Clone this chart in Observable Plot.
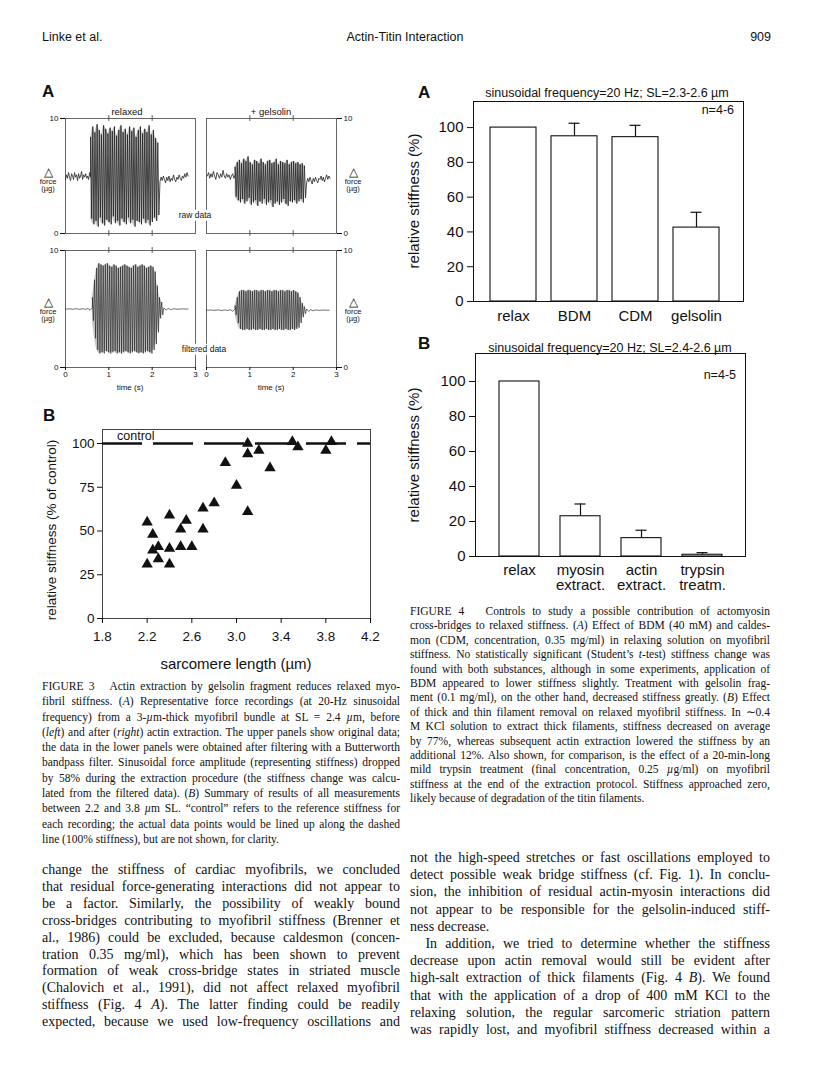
<!DOCTYPE html>
<html><head><meta charset="utf-8">
<script src="https://cdn.jsdelivr.net/npm/d3@7"></script>
<script src="https://cdn.jsdelivr.net/npm/@observablehq/plot@0.6"></script>
<style>
body{margin:0;background:#fff;}
#page{position:relative;width:816px;height:1076px;overflow:hidden;background:#fff;color:#111;}
.ln{display:block;text-align:justify;text-align-last:justify;white-space:normal;overflow:visible;}
.ln.last{text-align-last:left;}
svg{overflow:visible;}
</style></head><body><div id="page"></div>
<script>
const SANS = '"Liberation Sans", Arial, sans-serif';
const SERIF = '"Liberation Serif", "Times New Roman", serif';

// ---------- Figure 3A: force traces ----------
const freqHz = 20;
// raw, relaxed
const relaxRawPre = [4.7,5.1,4.8,5.3,4.9,4.6,5.2,5.0,4.7,5.3,4.9,5.1,4.6,5.2,4.8,5.0,5.4,4.7,5.1,4.9,5.2,4.8,5.0,4.7,5.3,4.9];
const relaxRawHi = [8.4,9.3,8.8,9.5,9.0,8.6,9.4,9.1,8.7,9.2,8.9,9.3,8.5,9.0,9.4,8.8,9.1,8.6,9.3,8.9,9.2,8.4,9.0,9.3,8.7,9.1,8.8,9.4,8.6,9.0,8.3,7.9];
const relaxRawLo = [1.3,0.8,1.1,0.6,1.4,0.9,0.7,1.2,1.0,0.8,1.5,0.9,1.1,0.7,1.3,1.0,0.8,1.4,0.9,1.2,0.6,1.1,1.0,0.8,1.3,0.9,1.2,0.7,1.0,1.4,1.1,1.6];
const relaxRawPost = [4.5,4.9,4.6,5.0,4.7,4.4,4.9,4.6,5.0,4.5,4.8,4.6,5.1,4.7,4.5,4.9,4.7,5.1,4.8,4.6,5.0,4.8,5.2,4.9,5.3,5.0];
// raw, + gelsolin
const gelRawPre = [5.0,5.3,4.8,5.2,4.9,5.4,5.0,4.7,5.3,5.1,4.8,5.2,4.9,5.5,5.0,4.8,5.2,4.9,5.1,4.7,5.0,5.2,4.8,5.1];
const gelRawHi = [5.8,6.2,6.4,6.1,6.5,6.3,6.7,6.2,6.0,6.4,6.3,6.1,6.5,6.2,6.0,6.3,6.4,6.1,6.2,6.5,6.0,6.3,6.2,6.1,6.4,6.0,6.2,6.3,6.1,6.2,6.0,6.1,5.9];
const gelRawLo = [3.2,2.9,2.7,3.0,2.6,2.8,3.1,2.5,2.7,2.9,2.4,2.8,2.6,3.0,2.5,2.7,2.9,2.3,2.6,2.8,2.5,2.7,3.0,2.6,2.4,2.8,2.7,2.9,2.6,2.8,3.0,2.7,3.1];
const gelRawPost = [4.4,4.8,4.5,4.9,4.6,4.3,4.8,4.5,4.9,4.6,4.4,4.8,4.7,5.0,4.6,4.9,4.5,4.8,5.1,4.7,5.0,4.8];
// filtered, relaxed
const relaxFiltPre = [5.0,5.0,5.02,4.98,5.0,5.03,4.97,5.0,5.02,4.97,5.05,4.9,5.1];
const relaxFiltHi = [6.0,7.5,8.5,8.9,8.8,8.7,8.8,8.9,8.7,8.6,8.8,8.7,8.5,8.6,8.7,8.8,8.7,8.6,8.5,8.7,8.8,8.6,8.7,8.8,8.7,8.5,8.6,8.7,8.6,8.2,7.0,6.0,5.6];
const relaxFiltLo = [4.0,2.5,1.5,1.2,1.3,1.2,1.4,1.3,1.2,1.3,1.4,1.2,1.3,1.2,1.3,1.4,1.3,1.2,1.3,1.4,1.3,1.2,1.3,1.2,1.3,1.4,1.3,1.2,1.5,2.0,3.0,4.2,4.5];
const relaxFiltPost = [5.1,4.9,5.05,4.95,5.0,5.02,4.98,5.0,5.0,5.01,4.99,5.0];
// filtered, + gelsolin
const gelFiltPre = [4.9,4.9,4.92,4.88,4.9,4.93,4.87,4.9,4.92,4.87,4.95,4.8,5.0];
const gelFiltHi = [5.3,6.0,6.5,6.6,6.6,6.5,6.6,6.6,6.5,6.6,6.6,6.5,6.6,6.6,6.5,6.6,6.6,6.5,6.6,6.6,6.5,6.6,6.6,6.5,6.6,6.6,6.5,6.6,6.5,6.4,6.0,5.5,5.2];
const gelFiltLo = [4.5,3.8,3.3,3.2,3.2,3.3,3.2,3.2,3.3,3.2,3.2,3.3,3.2,3.2,3.3,3.2,3.2,3.3,3.2,3.2,3.3,3.2,3.2,3.3,3.2,3.2,3.3,3.2,3.3,3.4,3.8,4.3,4.6];
const gelFiltPost = [5.0,4.8,4.95,4.85,4.9,4.92,4.88,4.9,4.9,4.91,4.89,4.9];
// timing (s): baseline start, oscillation onset, trace end
const traceTimes = {
  relaxRaw: [0.0, 0.58, 2.83], gelRaw: [0.02, 0.66, 2.85],
  relaxFilt: [0.0, 0.62, 2.83], gelFilt: [0.0, 0.66, 2.83]
};
const forceTicks = [0, 10];
const timeTicks = [0, 1, 2, 3];

// ---------- Figure 3B ----------
const sarcomereLength = [2.2,2.2,2.25,2.25,2.3,2.3,2.4,2.4,2.4,2.5,2.5,2.55,2.6,2.7,2.7,2.8,2.9,3.0,3.1,3.1,3.1,3.2,3.3,3.5,3.55,3.8,3.85];
const relStiffness = [55,31,48,39,41,34,59,40,31,51,41,56,41,63,51,66,89,76,100,94,61,96,86,101,98,96,101];
const controlLevel = 100;
const fig3bXTicks = [1.8,2.2,2.6,3.0,3.4,3.8,4.2];
const fig3bYTicks = [0,25,50,75,100];

// ---------- Figure 4A ----------
const fig4aCats = ["relax","BDM","CDM","gelsolin"];
const fig4aValues = [100, 95, 94.5, 42.5];
const fig4aErr = [0, 7.5, 6.8, 8.8];
// ---------- Figure 4B ----------
const fig4bCats = ["relax","myosin extract.","actin extract.","trypsin treatm."];
const fig4bLabels = ["relax","myosin\nextract.","actin\nextract.","trypsin\ntreatm."];
const fig4bValues = [100, 23, 10.5, 1.0];
const fig4bErr = [0, 7, 4.5, 1.2];
const fig4YTicks = [0,20,40,60,80,100];

// ---------- helpers ----------
const page = document.getElementById("page");
function place(el, left, top){ el.style.position="absolute"; el.style.left=left+"px"; el.style.top=top+"px"; page.appendChild(el); return el; }
function label(html, x, y, o={}){
  const d=document.createElement("div");
  d.innerHTML=html;
  const size=o.size||12;
  d.style.cssText=`position:absolute;left:${x}px;top:${y}px;font-size:${size}px;line-height:1;white-space:nowrap;font-family:${o.serif?SERIF:SANS};font-weight:${o.bold?"bold":"normal"};color:#111;`+(o.bg?"background:#fff;padding:1px 1px;":"");
  const tx=o.anchor==="middle"?"-50%":o.anchor==="end"?"-100%":"0";
  d.style.transform=o.rotate?"translate(-50%,-50%) rotate(-90deg)":`translate(${tx},-50%)`;
  page.appendChild(d); return d;
}
function para(lines, left, top, width, size, lh, lastSet=new Set(), indentSet=new Set()){
  const wrap=document.createElement("div");
  wrap.style.cssText=`position:absolute;left:${left}px;top:${top}px;width:${width}px;font-family:${SERIF};font-size:${size}px;line-height:${lh}px;color:#111;`;
  lines.forEach((l,i)=>{
    const d=document.createElement("div");
    d.className="ln"+(lastSet.has(i)?" last":"");
    if(indentSet.has(i)) d.style.textIndent="1.1em";
    d.innerHTML=l; wrap.appendChild(d);
  });
  page.appendChild(wrap);
}

// ---------- header ----------
label("Linke et al.", 42, 37, {size:12.5});
label("Actin-Titin Interaction", 405, 37, {size:12.5, anchor:"middle"});
label("909", 771, 37, {size:12.5, anchor:"end"});

// ---------- Fig 3A ----------
function buildTrace(pre, hi, lo, post, times){
  const [t0, tOn] = times, tEnd = times[2];
  const pts=[];
  pre.forEach((v,i)=>pts.push({t: t0 + (tOn-t0)*i/(pre.length-1), v}));
  const cyc=[];
  hi.forEach((h,i)=>{
    const ta=tOn + i/freqHz, tb=tOn+(i+0.5)/freqHz;
    pts.push({t:ta, v:h}); pts.push({t:tb, v:lo[i]});
    cyc.push({t:ta, hi:h, lo:lo[i]});
  });
  const tOff = tOn + hi.length/freqHz;
  post.forEach((v,i)=>pts.push({t: tOff + (tEnd-tOff)*i/(post.length-1), v}));
  return {pts, cyc};
}
function tracePanel(tr, side, showX, left, top, raw){
  const h = showX ? 117 : 115;
  const mb = showX ? 14 : 4;
  const p = Plot.plot({
    width:156, height:10+h+mb, marginTop:10, marginBottom:mb,
    marginLeft: side==="left"?25:1, marginRight: side==="left"?1:25,
    x:{domain:[0,3], axis:null}, y:{domain:[0,10], axis:null},
    style:{fontFamily:SANS, background:"transparent", color:"#111"},
    marks:[
      Plot.frame({stroke:"#555", strokeWidth:0.9}),
      Plot.areaY(tr.cyc, {x:"t", y1:"lo", y2:"hi", fill:"#8c8c8c", fillOpacity:0.5}),
      Plot.line(tr.pts, {x:"t", y:"v", stroke:"#222", strokeWidth: raw?0.8:0.65}),
      Plot.axisY({anchor:side, ticks:forceTicks, tickSize:5, tickPadding:2, fontSize:8, label:null}),
      showX ? Plot.axisX({ticks:timeTicks, tickSize:3, tickPadding:1, fontSize:8, tickFormat:d3.format("d"), label:null})
            : Plot.ruleX([1,2], {y1:-0.25, y2:0.25, stroke:"#555"}),
      Plot.ruleX([1,2], {y1:9.75, y2:10.25, stroke:"#555"})
    ]
  });
  place(p, left, top);
}
const tRR = buildTrace(relaxRawPre, relaxRawHi, relaxRawLo, relaxRawPost, traceTimes.relaxRaw);
const tGR = buildTrace(gelRawPre, gelRawHi, gelRawLo, gelRawPost, traceTimes.gelRaw);
const tRF = buildTrace(relaxFiltPre, relaxFiltHi, relaxFiltLo, relaxFiltPost, traceTimes.relaxFilt);
const tGF = buildTrace(gelFiltPre, gelFiltHi, gelFiltLo, gelFiltPost, traceTimes.gelFilt);
tracePanel(tRR, "left", false, 40, 108, true);
tracePanel(tGR, "right", false, 205, 108, true);
tracePanel(tRF, "left", true, 40, 240, false);
tracePanel(tGF, "right", true, 205, 240, false);

label("A", 42, 91, {size:17, bold:true});
label("relaxed", 127, 112, {size:9.5, anchor:"middle"});
label("+ gelsolin", 271, 112, {size:9.5, anchor:"middle"});
label("raw data", 195, 215, {size:8.5, anchor:"middle", bg:true});
label("filtered data", 204, 349, {size:8.5, anchor:"middle", bg:true});
label("time (s)", 130, 388, {size:8, anchor:"middle"});
label("time (s)", 271, 388, {size:8, anchor:"middle"});
for (const [x, y0] of [[48,172],[353,172],[48,302],[353,302]]){
  label("&#9651;", x, y0, {size:12, anchor:"middle"});
  label("force", x, y0+10, {size:7.5, anchor:"middle"});
  label("(µg)", x, y0+17, {size:7.5, anchor:"middle"});
}

// ---------- Fig 3B ----------
{
  const pts = sarcomereLength.map((x,i)=>({x, y:relStiffness[i]}));
  const p = Plot.plot({
    width:332, height:248, marginLeft:62, marginRight:2, marginTop:29, marginBottom:30,
    x:{domain:[1.8,4.2]}, y:{domain:[0,108]},
    style:{fontFamily:SANS, background:"transparent", color:"#111"},
    marks:[
      Plot.frame({stroke:"#444", strokeWidth:1}),
      Plot.ruleY([controlLevel], {stroke:"#111", strokeWidth:2.6, strokeDasharray:"40,11"}),
      Plot.dot(pts, {x:"x", y:"y", symbol:"triangle", r:4.2, fill:"#111", stroke:"none"}),
      Plot.text(["control"], {x:1.93, y:controlLevel, dy:-8, text:d=>d, textAnchor:"start", fontSize:12.5}),
      Plot.axisY({ticks:fig3bYTicks, tickSize:5, tickPadding:3, fontSize:13.5, label:null}),
      Plot.axisX({ticks:fig3bXTicks, tickSize:5, tickPadding:8, fontSize:13.5, tickFormat:d3.format(".1f"), label:null})
    ]
  });
  place(p, 40, 400);
  label("B", 43, 415, {size:17, bold:true});
  label("relative stiffness (% of control)", 52, 530, {size:13.5, rotate:true});
  label("sarcomere length (µm)", 236, 663, {size:15, anchor:"middle"});
}

// ---------- Fig 4 bar charts ----------
function barChart(cats, values, errs, tickLabels, opts){
  const data = cats.map((c,i)=>({c, v:values[i], e:errs[i], lab:tickLabels[i]}));
  const labMap = new Map(data.map(d=>[d.c, d.lab]));
  const errData = data.filter(d=>d.e>0);
  const capInset = (opts.bw - 11)/2;
  const p = Plot.plot({
    width:360, height:opts.height, marginLeft:opts.ml, marginRight:360-opts.ml-270, marginTop:opts.mt, marginBottom:opts.mb,
    x:{type:"band", domain:cats, range:opts.range, paddingInner:opts.pi, paddingOuter:0},
    y:{domain:[0, opts.ymax]},
    style:{fontFamily:SANS, background:"transparent", color:"#111"},
    marks:[
      Plot.frame({stroke:"#111", strokeWidth:1}),
      Plot.ruleX(errData, {x:"c", y1:"v", y2:d=>d.v+d.e, stroke:"#111", strokeWidth:1.2}),
      Plot.tickY(errData, {x:"c", y:d=>d.v+d.e, stroke:"#111", strokeWidth:1.2, insetLeft:capInset, insetRight:capInset}),
      Plot.barY(data, {x:"c", y:"v", fill:"white", stroke:"#111", strokeWidth:1.1}),
      Plot.axisY({ticks:fig4YTicks, tickSize:6, tickPadding:4, fontSize:15, label:null}),
      Plot.axisX({tickSize:0, tickPadding:opts.tp, fontSize:15, lineHeight:1.0, tickFormat:c=>labMap.get(c), label:null})
    ]
  });
  return p;
}
place(barChart(fig4aCats, fig4aValues, fig4aErr, fig4aCats, {height:245, ml:73, mt:21, mb:24, range:[89,319], pi:0.25, bw:46, ymax:115, tp:9}), 400, 80);
label("A", 418, 92, {size:17, bold:true});
label("sinusoidal frequency=20 Hz; SL=2.3-2.6 µm", 607, 93, {size:12.5, anchor:"middle"});
label("n=4-6", 734, 110, {size:12.5, anchor:"end"});
label("relative stiffness (%)", 413, 201, {size:15, rotate:true});

place(barChart(fig4bCats, fig4bValues, fig4bErr, fig4bLabels, {height:272, ml:75, mt:23, mb:46, range:[98,322], pi:0.348, bw:40, ymax:116, tp:8}), 400, 330);
label("B", 418, 343, {size:17, bold:true});
label("sinusoidal frequency=20 Hz; SL=2.4-2.6 µm", 610, 348, {size:12.5, anchor:"middle"});
label("n=4-5", 736, 375, {size:12.5, anchor:"end"});
label("relative stiffness (%)", 413, 455, {size:15, rotate:true});

// ---------- captions ----------
const cap3 = [
 "FIGURE 3&nbsp;&nbsp; Actin extraction by gelsolin fragment reduces relaxed myo-",
 "fibril stiffness. (<i>A</i>) Representative force recordings (at 20-Hz sinusoidal",
 "frequency) from a 3-<i>µ</i>m-thick myofibril bundle at SL = 2.4 <i>µ</i>m, before",
 "(<i>left</i>) and after (<i>right</i>) actin extraction. The upper panels show original data;",
 "the data in the lower panels were obtained after filtering with a Butterworth",
 "bandpass filter. Sinusoidal force amplitude (representing stiffness) dropped",
 "by 58% during the extraction procedure (the stiffness change was calcu-",
 "lated from the filtered data). (<i>B</i>) Summary of results of all measurements",
 "between 2.2 and 3.8 <i>µ</i>m SL. “control” refers to the reference stiffness for",
 "each recording; the actual data points would be lined up along the dashed",
 "line (100% stiffness), but are not shown, for clarity."
];
para(cap3, 42, 679, 358, 11.5, 15.3, new Set([10]));
const cap4 = [
 "FIGURE 4&nbsp;&nbsp; Controls to study a possible contribution of actomyosin",
 "cross-bridges to relaxed stiffness. (<i>A</i>) Effect of BDM (40 mM) and caldes-",
 "mon (CDM, concentration, 0.35 mg/ml) in relaxing solution on myofibril",
 "stiffness. No statistically significant (Student’s <i>t</i>-test) stiffness change was",
 "found with both substances, although in some experiments, application of",
 "BDM appeared to lower stiffness slightly. Treatment with gelsolin frag-",
 "ment (0.1 mg/ml), on the other hand, decreased stiffness greatly. (<i>B</i>) Effect",
 "of thick and thin filament removal on relaxed myofibril stiffness. In ∼0.4",
 "M KCl solution to extract thick filaments, stiffness decreased on average",
 "by 77%, whereas subsequent actin extraction lowered the stiffness by an",
 "additional 12%. Also shown, for comparison, is the effect of a 20-min-long",
 "mild trypsin treatment (final concentration, 0.25 <i>µ</i>g/ml) on myofibril",
 "stiffness at the end of the extraction protocol. Stiffness approached zero,",
 "likely because of degradation of the titin filaments."
];
para(cap4, 410, 604, 360, 11.5, 14.4, new Set([13]));

// ---------- body text ----------
const bodyLeft = [
 "change the stiffness of cardiac myofibrils, we concluded",
 "that residual force-generating interactions did not appear to",
 "be a factor. Similarly, the possibility of weakly bound",
 "cross-bridges contributing to myofibril stiffness (Brenner et",
 "al., 1986) could be excluded, because caldesmon (concen-",
 "tration 0.35 mg/ml), which has been shown to prevent",
 "formation of weak cross-bridge states in striated muscle",
 "(Chalovich et al., 1991), did not affect relaxed myofibril",
 "stiffness (Fig. 4 <i>A</i>). The latter finding could be readily",
 "expected, because we used low-frequency oscillations and"
];
para(bodyLeft, 42, 862, 358, 14, 16.9);
const bodyRight = [
 "not the high-speed stretches or fast oscillations employed to",
 "detect possible weak bridge stiffness (cf. Fig. 1). In conclu-",
 "sion, the inhibition of residual actin-myosin interactions did",
 "not appear to be responsible for the gelsolin-induced stiff-",
 "ness decrease.",
 "In addition, we tried to determine whether the stiffness",
 "decrease upon actin removal would still be evident after",
 "high-salt extraction of thick filaments (Fig. 4 <i>B</i>). We found",
 "that with the application of a drop of 400 mM KCl to the",
 "relaxing solution, the regular sarcomeric striation pattern",
 "was rapidly lost, and myofibril stiffness decreased within a"
];
para(bodyRight, 410, 849, 360, 14, 17.2, new Set([4]), new Set([5]));
</script></body></html>
